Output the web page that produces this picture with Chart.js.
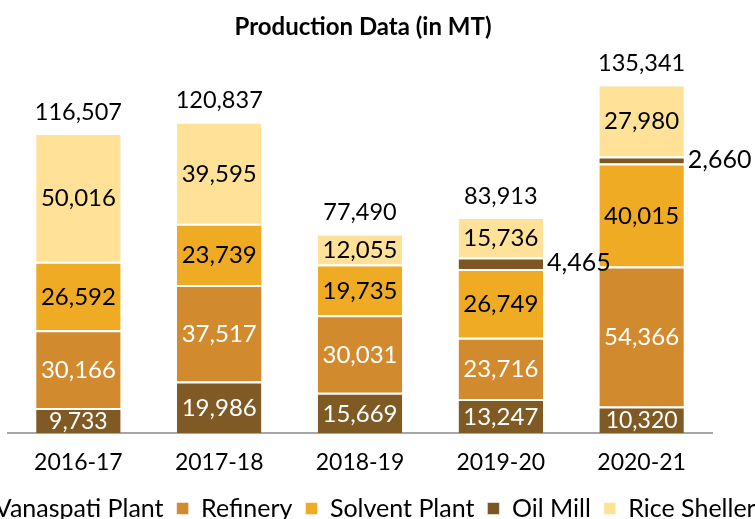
<!DOCTYPE html>
<html>
<head>
<meta charset="utf-8">
<script src="https://cdn.jsdelivr.net/npm/chart.js@4.4.1/dist/chart.umd.min.js"></script>
<style>
  html, body { margin: 0; padding: 0; background: #fff; }
  body { width: 755px; height: 519px; overflow: hidden; position: relative; }
  #wrap { position: absolute; left: -47px; top: 0; width: 820px; height: 531px; }
</style>
</head>
<body>
<div id="wrap"><canvas id="c" width="820" height="531"></canvas></div>
<script>
const categories = ['2016-17', '2017-18', '2018-19', '2019-20', '2020-21'];
const vanaspati = [9733, 19986, 15669, 13247, 10320];
const refinery = [30166, 37517, 30031, 23716, 54366];
const solvent = [26592, 23739, 19735, 26749, 40015];
const oilMill = [0, 0, 0, 4465, 2660];
const riceSheller = [50016, 39595, 12055, 15736, 27980];
const seriesNames = ['Vanaspati Plant', 'Refinery', 'Solvent Plant', 'Oil Mill', 'Rice Sheller'];
const seriesColors = ['#805A25', '#D18B2E', '#F0AB24', '#7D5723', '#FFE197'];
const labelColors = ['#ffffff', '#ffffff', '#000000', '#000000', '#000000'];
const seriesData = [vanaspati, refinery, solvent, oilMill, riceSheller];

const FONT = 'Lato, "Open Sans", sans-serif';
const fmt = v => v.toLocaleString('en-US');

const labelPlugin = {
  id: 'segLabels',
  afterDatasetsDraw(chart) {
    const ctx = chart.ctx;
    ctx.save();
    ctx.textBaseline = 'middle';
    const tops = [];
    chart.data.datasets.forEach((ds, di) => {
      const meta = chart.getDatasetMeta(di);
      meta.data.forEach((el, i) => {
        const v = ds.data[i];
        if (!v) return;
        const top = Math.min(el.y, el.base);
        tops[i] = tops[i] === undefined ? top : Math.min(tops[i], top);
        const cy = (el.y + el.base) / 2;
        const h = Math.abs(el.base - el.y);
        if (ds.label === 'Oil Mill') {
          ctx.font = '25px ' + FONT;
          ctx.textAlign = 'left';
          ctx.fillStyle = '#000';
          ctx.fillText(fmt(v), el.x + el.width / 2 + 4, cy);
        } else {
          ctx.font = (h < 30 ? '23px ' : '24px ') + FONT;
          ctx.textAlign = 'center';
          ctx.fillStyle = labelColors[di];
          ctx.fillText(fmt(v), el.x, cy + 1);
        }
      });
    });
    ctx.font = '23.5px ' + FONT;
    ctx.textAlign = 'center';
    ctx.fillStyle = '#000';
    const xs = chart.getDatasetMeta(0).data;
    categories.forEach((c, i) => {
      const total = seriesData.reduce((s, arr) => s + (arr[i] || 0), 0);
      ctx.fillText(fmt(total), xs[i].x, tops[i] - 21);
    });
    ctx.restore();
  }
};

new Chart(document.getElementById('c'), {
  type: 'bar',
  data: {
    labels: categories,
    datasets: seriesNames.map((n, i) => ({
      label: n,
      data: seriesData[i],
      backgroundColor: seriesColors[i],
      borderColor: '#ffffff',
      borderWidth: { top: 2, bottom: 0, left: 0, right: 0 },
      borderSkipped: false,
      categoryPercentage: 1.0,
      barPercentage: 0.6,
      yAxisID: 'y'
    }))
  },
  options: {
    responsive: false,
    animation: false,
    devicePixelRatio: 1,
    layout: { padding: 0 },
    scales: {
      x: {
        stacked: true,
        grid: { display: false, drawTicks: false },
        border: { display: true, color: '#A6A6A6', width: 2 },
        ticks: { color: '#000', font: { family: FONT, size: 23 }, padding: 16 },
        afterFit(scale) { scale.height = 50; }
      },
      y: {
        stacked: true,
        min: 0,
        max: 150000,
        position: 'left',
        grid: { display: false, drawTicks: false },
        border: { display: false },
        ticks: { display: false },
        afterFit(scale) { scale.width = 55; }
      },
      y2: {
        type: 'linear',
        position: 'right',
        grid: { display: false, drawTicks: false },
        border: { display: false },
        ticks: { display: false },
        afterFit(scale) { scale.width = 61; }
      }
    },
    plugins: {
      title: {
        display: true,
        text: 'Production Data (in MT)',
        color: '#000',
        font: { family: FONT, size: 24, weight: 'bold' },
        padding: { top: 12.6, bottom: 5.35 }
      },
      legend: {
        position: 'bottom',
        labels: {
          color: '#000',
          font: { family: FONT, size: 25 },
          boxWidth: 12,
          boxHeight: 12,
          padding: 13
        }
      },
      tooltip: { enabled: false }
    }
  },
  plugins: [labelPlugin]
});
</script>
</body>
</html>
